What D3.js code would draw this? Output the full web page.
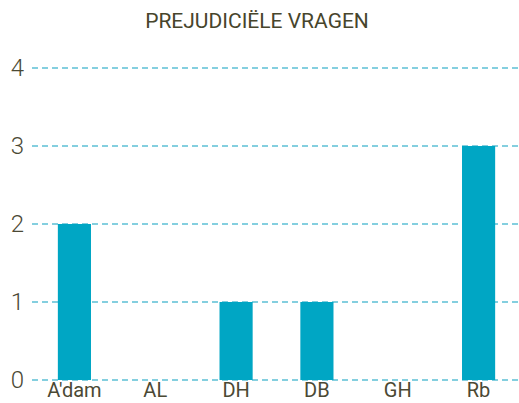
<!DOCTYPE html>
<html>
<head>
<meta charset="utf-8">
<script src="https://cdn.jsdelivr.net/npm/d3@7"></script>
<style>
  body { margin: 0; background: #fff; }
  text { font-family: "Roboto", sans-serif; fill: #4b4934; }
</style>
</head>
<body>
<div id="chart"></div>
<script>
var svgWidth = 519;
var svgHeight = 403;

var categories = ["A'dam", "AL", "DH", "DB", "GH", "Rb"];
var values = [2, 0, 1, 1, 0, 3];
var yTicks = [0, 1, 2, 3, 4];
var title = "PREJUDICIËLE VRAGEN";

var margin = { top: 68, right: 0, bottom: 23, left: 34 };
var width = svgWidth - margin.left - margin.right;
var height = svgHeight - margin.top - margin.bottom;

var svg = d3.select("#chart")
  .append("svg")
  .attr("width", svgWidth)
  .attr("height", svgHeight);

var chartGroup = svg.append("g")
  .attr("transform", `translate(${margin.left}, ${margin.top})`);

var xScale = d3.scaleBand()
  .domain(categories)
  .range([0, width])
  .paddingInner(0.59)
  .paddingOuter(0.295);

var yScale = d3.scaleLinear()
  .domain([0, 4])
  .range([height, 0]);

// gridlines
chartGroup.selectAll(".grid")
  .data(yTicks)
  .enter()
  .append("line")
  .attr("x1", -2)
  .attr("x2", width)
  .attr("y1", d => yScale(d))
  .attr("y2", d => yScale(d))
  .attr("stroke", "#5cc0d5")
  .attr("stroke-width", 1.3)
  .attr("stroke-dasharray", "6,4");

// bars
chartGroup.selectAll(".bar")
  .data(values)
  .enter()
  .append("rect")
  .attr("x", (d, i) => xScale(categories[i]))
  .attr("y", d => yScale(d))
  .attr("width", xScale.bandwidth())
  .attr("height", d => height - yScale(d))
  .attr("fill", "#00a6c4");

// y labels
chartGroup.selectAll(".ylab")
  .data(yTicks)
  .enter()
  .append("text")
  .attr("x", -10)
  .attr("y", d => yScale(d))
  .attr("dy", "0.35em")
  .attr("text-anchor", "end")
  .attr("font-size", "24px")
  .attr("font-weight", 300)
  .text(d => d);

// x labels
chartGroup.selectAll(".xlab")
  .data(categories)
  .enter()
  .append("text")
  .attr("x", d => xScale(d) + xScale.bandwidth() / 2)
  .attr("y", height + 17)
  .attr("text-anchor", "middle")
  .attr("font-size", "20px")
  .text(d => d);

svg.append("text")
  .attr("x", 257)
  .attr("y", 28)
  .attr("text-anchor", "middle")
  .attr("font-size", "21px")
  .style("fill", "#47452c")
  .text(title);
</script>
</body>
</html>
